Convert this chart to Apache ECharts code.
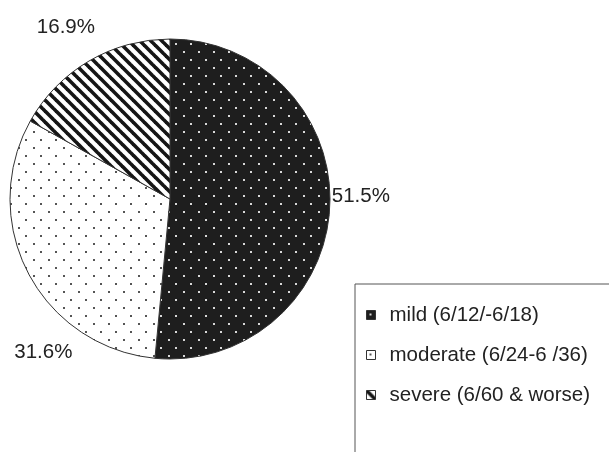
<!DOCTYPE html>
<html>
<head>
<meta charset="utf-8">
<script src="https://cdn.jsdelivr.net/npm/echarts@6/dist/echarts.min.js"></script>
<style>
html,body{margin:0;padding:0;background:#fff;}
#chart{width:609px;height:452px;}
</style>
</head>
<body>
<div id="chart"></div>
<script>
// ---- data ----
const categories = ['mild (6/12/-6/18)', 'moderate (6/24-6 /36)', 'severe (6/60 & worse)'];
const percentages = [51.5, 31.6, 16.9];

// ---- fill patterns ----
function dotPattern(bg, dot) {
  const c = document.createElement('canvas');
  c.width = 15; c.height = 16;
  const g = c.getContext('2d');
  g.fillStyle = bg; g.fillRect(0, 0, 15, 16);
  g.fillStyle = dot;
  g.fillRect(3, 3, 2, 2);
  g.fillRect(10, 11, 2, 2);
  return c;
}
function stripePattern() {
  const s = 11;
  const c = document.createElement('canvas');
  c.width = s; c.height = s;
  const g = c.getContext('2d');
  g.fillStyle = '#ffffff'; g.fillRect(0, 0, s, s);
  g.strokeStyle = '#151515'; g.lineWidth = 3.6;
  for (let k = -1; k <= 1; k++) {
    g.beginPath();
    g.moveTo(k * s - 1, -1);
    g.lineTo(k * s + s + 1, s + 1);
    g.stroke();
  }
  return c;
}
const fills = [
  { image: dotPattern('#1e1e1e', '#d8d8d8'), repeat: 'repeat' },
  { image: dotPattern('#ffffff', '#555555'), repeat: 'repeat' },
  { image: stripePattern(), repeat: 'repeat' }
];
const labelNudge = [
  { dx: 2, dy: -10 },
  { dx: 44, dy: 79 },
  { dx: 6, dy: -34 }
];

const chart = echarts.init(document.getElementById('chart'), null, { renderer: 'canvas' });
const font = "'Liberation Sans', Arial, Helvetica, sans-serif";

chart.setOption({
  backgroundColor: '#ffffff',
  animation: false,
  legend: {
    orient: 'vertical',
    left: 355,
    top: 284,
    height: 130,
    padding: [20, 40, 80, 11],
    borderColor: '#555',
    borderWidth: 1,
    backgroundColor: '#ffffff',
    icon: 'rect',
    itemWidth: 9,
    itemHeight: 9,
    itemGap: 18,
    selectedMode: false,
    itemStyle: { borderColor: '#333', borderWidth: 1 },
    textStyle: { fontFamily: font, fontSize: 20.5, color: '#222', lineHeight: 22, padding: [0, 0, 0, 9] },
    data: categories
  },
  series: [{
    type: 'pie',
    center: [170, 199],
    radius: 160,
    startAngle: 90,
    clockwise: true,
    avoidLabelOverlap: false,
    itemStyle: { borderColor: '#333', borderWidth: 1 },
    label: {
      show: true,
      position: 'outside',
      formatter: '{c}%',
      fontFamily: font,
      fontSize: 20.5,
      color: '#222',
      distanceToLabelLine: 0
    },
    labelLine: { show: false, length: 0, length2: 0 },
    labelLayout: function (p) { return labelNudge[p.dataIndex]; },
    emphasis: { disabled: true },
    data: categories.map((n, i) => ({ name: n, value: percentages[i], itemStyle: { color: fills[i] } }))
  }]
});
</script>
</body>
</html>
